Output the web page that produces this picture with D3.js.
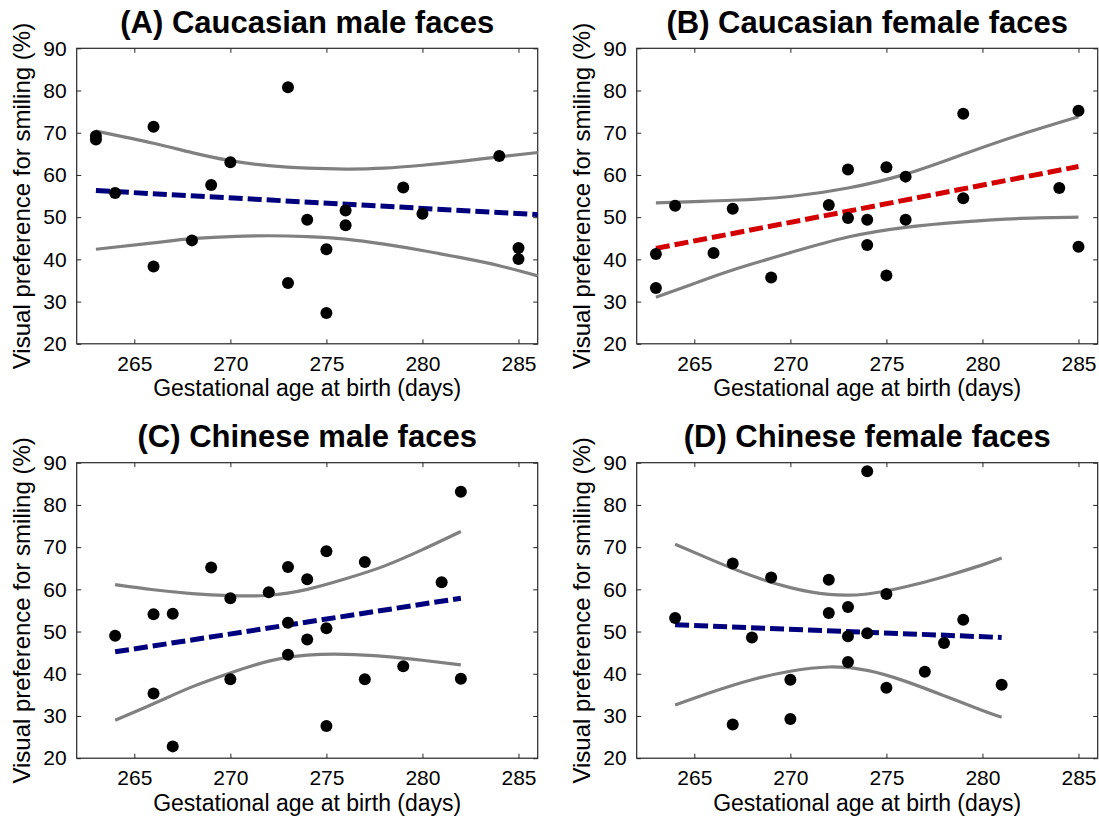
<!DOCTYPE html>
<html>
<head>
<meta charset="utf-8">
<script src="https://cdn.jsdelivr.net/npm/d3@7"></script>
<style>
  html, body { margin: 0; padding: 0; background: #fff; }
  svg { display: block; font-family: "Liberation Sans", Arial, Helvetica, sans-serif; }
</style>
</head>
<body>
<svg id="chart" width="1099" height="821"></svg>
<script>
// ---------- data ----------
const titles = ["(A) Caucasian male faces", "(B) Caucasian female faces", "(C) Chinese male faces", "(D) Chinese female faces"];
const xTicks = [265, 270, 275, 280, 285];
const yTicks = [20, 30, 40, 50, 60, 70, 80, 90];
const xLabel = "Gestational age at birth (days)";
const yLabel = "Visual preference for smiling (%)";

// Panel A
const ageA  = [263, 263, 264, 266, 266, 268, 269, 270, 273, 273, 274, 275, 275, 276, 276, 279, 280, 284, 285, 285];
const prefA = [69.2, 68.4, 55.7, 71.4, 38.3, 44.5, 57.6, 63.0, 80.8, 34.4, 49.4, 42.4, 27.3, 51.6, 48.1, 57.0, 50.8, 64.5, 42.7, 40.1];
const fitXA = [263, 286];
const fitYA = [56.3, 50.6];
const ciXA  = [263, 266, 268, 270, 272, 274, 276, 278, 280, 282, 284, 286];
const ciUpA = [70.4, 67.5, 65.3, 63.4, 62.2, 61.6, 61.4, 61.6, 62.3, 63.2, 64.3, 65.3];
const ciLoA = [42.4, 43.9, 44.9, 45.4, 45.6, 45.4, 44.8, 43.6, 42.1, 40.4, 38.5, 36.1];

// Panel B
const ageB  = [263, 263, 264, 266, 267, 269, 272, 273, 273, 274, 274, 275, 275, 276, 276, 279, 279, 284, 285, 285];
const prefB = [41.3, 33.2, 52.7, 41.5, 52.0, 35.7, 52.9, 61.3, 49.8, 49.4, 43.4, 61.8, 36.2, 59.6, 49.4, 74.5, 54.5, 56.9, 75.2, 43.0];
const fitXB = [263, 285];
const fitYB = [42.6, 62.0];
const ciXB  = [263, 265, 267, 270, 273, 276, 279, 282, 285];
const ciUpB = [53.4, 53.7, 54.0, 54.9, 56.9, 60.2, 64.9, 69.6, 73.8];
const ciLoB = [31.0, 34.3, 37.5, 41.6, 45.3, 47.6, 48.9, 49.7, 50.0];

// Panel C
const ageC  = [264, 266, 266, 267, 267, 269, 270, 270, 272, 273, 273, 273, 274, 274, 275, 275, 275, 277, 277, 279, 281, 282, 282];
const prefC = [49.0, 54.1, 35.3, 54.2, 22.8, 65.2, 57.9, 38.7, 59.3, 65.3, 52.1, 44.5, 62.4, 48.1, 69.0, 50.8, 27.6, 66.5, 38.7, 41.8, 61.7, 83.1, 38.8];
const fitXC = [264, 282];
const fitYC = [45.2, 57.9];
const ciXC  = [264, 266, 268, 270, 272, 274, 276, 278, 280, 282];
const ciUpC = [61.1, 59.9, 59.0, 58.5, 58.6, 60.0, 62.5, 65.5, 69.4, 73.7];
const ciLoC = [29.0, 32.9, 36.9, 40.2, 43.0, 44.4, 44.6, 44.1, 43.2, 42.1];

// Panel D
const ageD  = [264, 267, 267, 268, 269, 270, 270, 272, 272, 273, 273, 273, 274, 274, 275, 275, 277, 278, 279, 281];
const prefD = [53.2, 66.1, 28.0, 48.6, 62.8, 38.6, 29.3, 62.3, 54.4, 55.8, 48.9, 42.8, 88.0, 49.6, 58.9, 36.7, 40.5, 47.3, 52.8, 37.4];
const fitXD = [264, 281];
const fitYD = [51.6, 48.6];
const ciXD  = [264, 266, 268, 270, 272, 274, 276, 278, 280, 281];
const ciUpD = [70.7, 66.8, 63.2, 60.4, 58.8, 58.9, 60.6, 63.0, 65.8, 67.4];
const ciLoD = [32.6, 35.8, 38.6, 40.6, 41.6, 40.8, 38.2, 34.8, 31.3, 29.7];

const fitColors = ["#00007f", "#d40000", "#00007f", "#00007f"];

// ---------- build panels ----------
const panels = [
  {age: ageA, pref: prefA, fitX: fitXA, fitY: fitYA, ciX: ciXA, ciUp: ciUpA, ciLo: ciLoA},
  {age: ageB, pref: prefB, fitX: fitXB, fitY: fitYB, ciX: ciXB, ciUp: ciUpB, ciLo: ciLoB},
  {age: ageC, pref: prefC, fitX: fitXC, fitY: fitYC, ciX: ciXC, ciUp: ciUpC, ciLo: ciLoC},
  {age: ageD, pref: prefD, fitX: fitXD, fitY: fitYD, ciX: ciXD, ciUp: ciUpD, ciLo: ciLoD}
];

const svg = d3.select("#chart");
const W = 461, H = 295.5;
const lefts = [76.7, 636.7], tops = [48.3, 462.7];

panels.forEach((p, i) => {
  const ox = lefts[i % 2], oy = tops[Math.floor(i / 2)];
  const g = svg.append("g").attr("transform", `translate(${ox},${oy})`);
  const x = d3.scaleLinear().domain([262, 286]).range([0, W]);
  const y = d3.scaleLinear().domain([20, 90]).range([H, 0]);

  const axisColor = "#262626";
  const gx = g.append("g").attr("transform", `translate(0,${H})`)
    .call(d3.axisBottom(x).tickValues(xTicks).tickSizeInner(-4.5).tickSizeOuter(0).tickPadding(12));
  const gy = g.append("g")
    .call(d3.axisLeft(y).tickValues(yTicks).tickSizeInner(-4.5).tickSizeOuter(0).tickPadding(10));
  const gt = g.append("g")
    .call(d3.axisTop(x).tickValues(xTicks).tickSizeInner(-4.5).tickSizeOuter(0).tickFormat(""));
  const gr = g.append("g").attr("transform", `translate(${W},0)`)
    .call(d3.axisRight(y).tickValues(yTicks).tickSizeInner(-4.5).tickSizeOuter(0).tickFormat(""));
  [gx, gy, gt, gr].forEach(a => {
    a.select(".domain").remove();
    a.selectAll(".tick line").attr("stroke", axisColor).attr("stroke-width", 1);
    a.selectAll(".tick text").attr("fill", "#000").style("font-size", "21px")
      .style("font-family", '"Liberation Sans", Arial, sans-serif');
  });
  g.append("rect").attr("x", 0).attr("y", 0).attr("width", W).attr("height", H)
    .attr("fill", "none").attr("stroke", axisColor).attr("stroke-width", 1.2);

  // CI curves
  const ciLine = d3.line().curve(d3.curveNatural);
  const upPts = p.ciX.map((d, k) => [x(d), y(p.ciUp[k])]);
  const loPts = p.ciX.map((d, k) => [x(d), y(p.ciLo[k])]);
  [upPts, loPts].forEach(pts => {
    g.append("path").attr("d", ciLine(pts)).attr("fill", "none")
      .attr("stroke", "#808080").attr("stroke-width", 3.2);
  });

  // regression line
  g.append("path")
    .attr("d", d3.line()(p.fitX.map((d, k) => [x(d), y(p.fitY[k])])))
    .attr("fill", "none").attr("stroke", fitColors[i]).attr("stroke-width", 5)
    .attr("stroke-dasharray", "14,5");

  // points
  g.selectAll("circle.pt").data(p.age.map((a, k) => [a, p.pref[k]])).enter()
    .append("circle").attr("class", "pt")
    .attr("cx", d => x(d[0])).attr("cy", d => y(d[1])).attr("r", 6).attr("fill", "#000");

  // title
  g.append("text").attr("x", W / 2).attr("y", -15.6).attr("text-anchor", "middle")
    .style("font-size", "31px").style("font-weight", "bold").text(titles[i]);
  // x label
  g.append("text").attr("x", W / 2).attr("y", H + 52.5).attr("text-anchor", "middle")
    .style("font-size", "23px").text(xLabel);
  // y label
  g.append("text").attr("transform", `translate(${-47},${H / 2}) rotate(-90)`)
    .attr("text-anchor", "middle").style("font-size", "24px").text(yLabel);
});
</script>
</body>
</html>
